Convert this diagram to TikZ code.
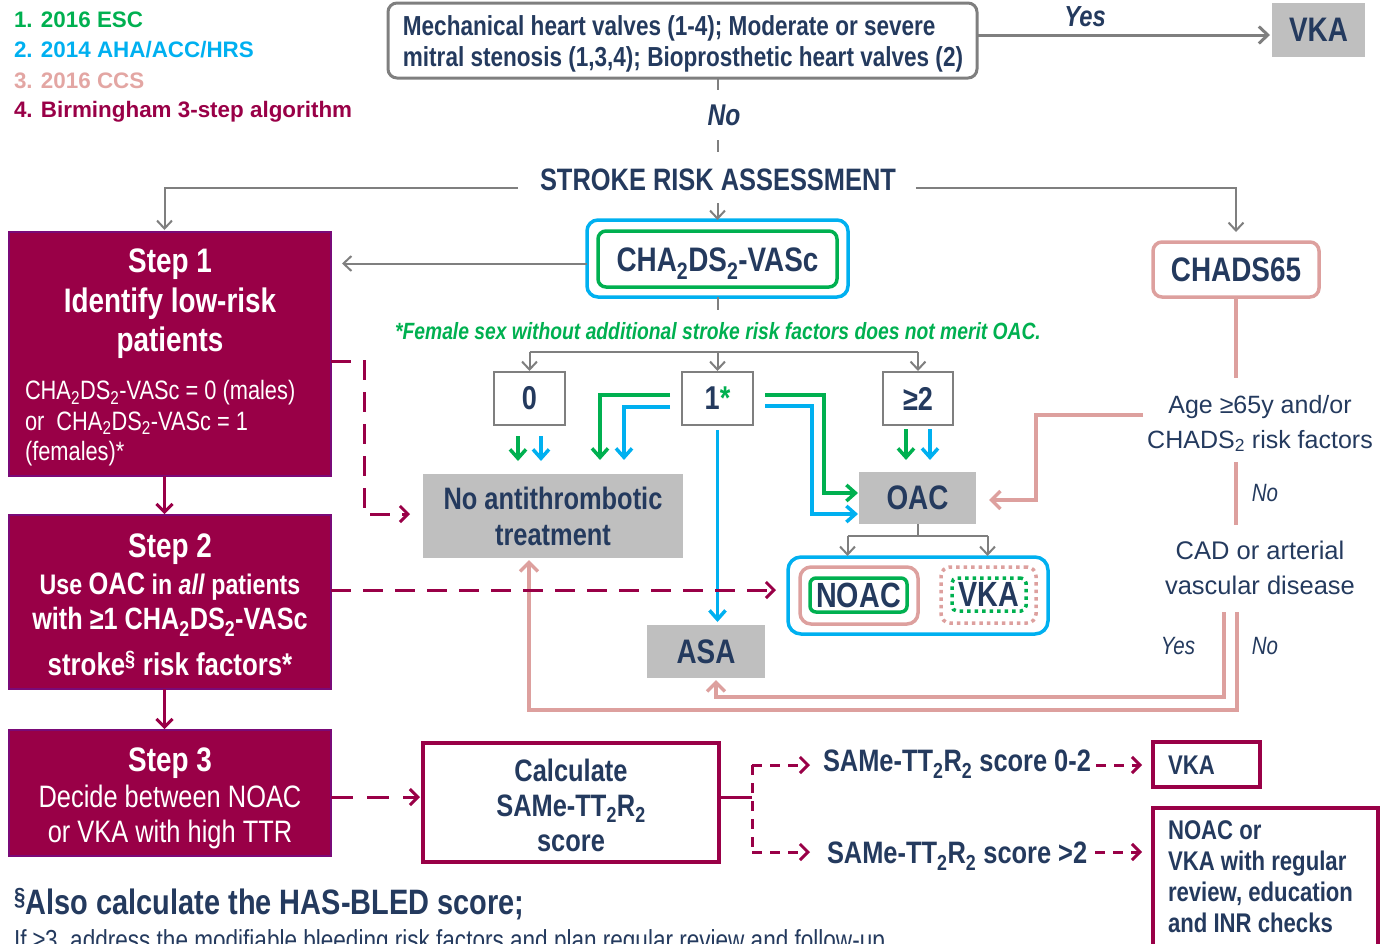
\documentclass[tikz,border=0pt]{standalone}
\usepackage{fontspec}
\setmainfont{Liberation Sans}
\newfontfamily\nar{Liberation Sans}[FakeStretch=0.82]
\usetikzlibrary{arrows.meta,calc}
\definecolor{txt}{HTML}{243A5E}
\definecolor{mar}{HTML}{990047}
\definecolor{pur}{HTML}{7A0A78}
\definecolor{grn}{HTML}{00B050}
\definecolor{cyn}{HTML}{00B0F0}
\definecolor{pnk}{HTML}{DDA09E}
\definecolor{pnkt}{HTML}{E3A6A3}
\definecolor{gbox}{HTML}{BFBFBF}
\definecolor{gln}{HTML}{7F7F7F}
\newcommand\fsz[2]{\fontsize{#1}{#2}\selectfont}
\begin{document}
\begin{tikzpicture}[x=1pt,y=-1pt,
  every node/.style={inner sep=0pt,outer sep=0pt},
  gl/.style={draw=gln,line width=2pt},
  ga/.style={gl,-{Straight Barb[length=8pt,width=15pt]}},
  cl/.style={line width=3.5pt},
  ca/.style={cl,-{Straight Barb[length=9pt,width=16pt]}},
  pl/.style={draw=pnk,line width=3.5pt},
  pa/.style={pl,-{Straight Barb[length=9pt,width=18pt]}},
  md/.style={draw=mar,line width=3pt,dash pattern=on 20pt off 12pt},
  mds/.style={draw=mar,line width=3pt,dash pattern=on 10pt off 8pt},
  ml/.style={draw=mar,line width=3pt},
  ma/.style={-{Straight Barb[length=8pt,width=16pt]}},
  stepbox/.style={fill=mar,draw=pur,line width=2pt,minimum width=322pt},
  gbx/.style={fill=gbox,text=txt,font=\nar\bfseries\fsz{34}{38}},
  wbx/.style={draw=gln,line width=1.5pt,fill=white,text=txt,font=\nar\bfseries\fsz{33}{38},minimum width=71pt,minimum height=53pt},
  hdr/.style={text=white,font=\nar\bfseries\fsz{34}{39.5},align=center},
  leg/.style={anchor=west,font=\bfseries\fsz{22.4}{27}},
]
\useasboundingbox (0,0) rectangle (1394,943);
\clip (0,0) rectangle (1394,943);

% legend
\node[leg,text=grn] (l1) at (14,20) {1. 2016 ESC};
\node[leg,text=cyn] (l2) at (14,50) {2. 2014 AHA/ACC/HRS};
\node[leg,text=pnkt] (l3) at (14,81) {3. 2016 CCS};
\node[leg,text=mar] (l4) at (14,112) {4. Birmingham 3-step algorithm};

% top
\node[draw=gln,line width=3pt,rounded corners=9pt,minimum width=589pt,minimum height=75pt] (top) at (682.5,40.5) {};
\node[text=txt,align=left,font=\nar\bfseries\fsz{27.5}{31}] (topt) at (683,44)
  {Mechanical heart valves (1-4); Moderate or severe\\mitral stenosis (1,3,4); Bioprosthetic heart valves (2)};
\node[gbx,minimum width=93pt,minimum height=54pt] (vkaT) at (1318.5,30) {VKA};
\draw[gl,line width=3pt,-{Straight Barb[length=9pt,width=17pt]}] ($(top.east)+(0,-5.5)$) -- ($(vkaT.west)+(-2,5)$);
\node[text=txt,font=\nar\bfseries\itshape\fsz{29}{32}] (yesT) at (1085,17) {Yes};
\node[text=txt,font=\nar\bfseries\itshape\fsz{30}{32}] (noT) at (724,115) {No};

% stroke risk assessment
\node[text=txt,font=\nar\bfseries\fsz{31}{34}] (sra) at (718,180) {STROKE RISK ASSESSMENT};
\draw[gl] (top.south -| sra) -- ++(0,12);
\draw[gl] ($(top.south -| sra)+(0,62)$) -- ($(top.south -| sra)+(0,74)$);

% step boxes
\coordinate (sx) at (164.5,0);
\node[stepbox,minimum height=244pt] (step1) at (170,354) {};
\node[stepbox,minimum height=174pt] (step2) at (170,602) {};
\node[stepbox,minimum height=126pt] (step3) at (170,793) {};

\node[hdr] (s1t) at (170,304) {Step 1\\Identify low-risk\\patients};
\node[text=white,font=\nar\fsz{26.6}{30.5},align=left,anchor=west] (s1b) at (25,423.5)
  {CHA\textsubscript{2}DS\textsubscript{2}-VASc = 0 (males)\\or\ \ CHA\textsubscript{2}DS\textsubscript{2}-VASc = 1\\(females)*};
\node[hdr] (s2t) at (170,549) {Step 2};
\node[text=white,font=\nar\bfseries\fsz{28.3}{34}] (s2a) at (170,587) {Use {\fsz{31}{34}OAC} in \textit{all} patients};
\node[text=white,font=\nar\bfseries\fsz{30.8}{34}] (s2b) at (170,622) {with ≥1 CHA\textsubscript{2}DS\textsubscript{2}-VASc};
\node[text=white,font=\nar\bfseries\fsz{31.5}{34}] (s2c) at (170,663) {stroke\textsuperscript{\S} risk factors*};
\node[hdr] (s3t) at (170,763) {Step 3};
\node[text=white,font=\nar\fsz{31}{35},align=center] (s3b) at (170,816.5) {Decide between NOAC\\or VKA with high TTR};

\draw[ml,ma] (step1.south -| sx) -- ($(step2.north -| sx)+(0,-1)$);
\draw[ml,ma] (step2.south -| sx) -- ($(step3.north -| sx)+(0,-1)$);

% CHA2DS2-VASc
\node[draw=cyn,line width=3.5pt,rounded corners=11pt,minimum width=261pt,minimum height=77pt] (chaO) at (717.5,258.5) {};
\node[draw=grn,line width=3.5pt,rounded corners=8pt,minimum width=239pt,minimum height=56pt,
  text height=24pt,text depth=0pt,
  text=txt,font=\nar\bfseries\fsz{34}{38}] (chaI) at (717.5,259) {CHA\textsubscript{2}DS\textsubscript{2}-VASc};
\node[draw=pnk,line width=3.5pt,rounded corners=9pt,minimum width=166pt,minimum height=55pt,
  text=txt,font=\nar\bfseries\fsz{34}{38}] (c65) at (1236,269.5) {CHADS65};

\draw[ga] ($(sra.west)+(-22,8)$) -| ($(step1.north -| sx)+(0,-2)$);
\draw[ga] ($(sra.east)+(20,8)$) -| ($(c65.north)+(0,-10)$);
\draw[ga] ($(chaO.north)+(0,-17)$) -- (chaO.north);
\draw[ga] ($(chaO.west)+(0,5)$) -- ($(step1.east |- chaO.west)+(11,5)$);

\node[text=grn,font=\nar\bfseries\itshape\fsz{23.5}{26}] (fem) at (718,331)
  {*Female sex without additional stroke risk factors does not merit OAC.};
\draw[gl] (chaO.south) -- ++(0,13);

% score boxes
\node[wbx] (b0) at (529.5,398.5) {0};
\node[wbx] (b1) at (717.5,398.5) {1\textcolor{grn}{*}};
\node[wbx,minimum width=70pt] (b2) at (918,398.5) {≥2};
\draw[gl] ($(b0.north)+(0,-20)$) -- ($(b2.north)+(0,-20)$);
\draw[ga] ($(b0.north)+(0,-20)$) -- ($(b0.north)+(0,-1)$);
\draw[ga] ($(b1.north)+(0,-20)$) -- ($(b1.north)+(0,-1)$);
\draw[ga] ($(b2.north)+(0,-20)$) -- ($(b2.north)+(0,-1)$);

% outcome boxes
\node[gbx,minimum width=260pt,minimum height=84pt,align=center,font=\nar\bfseries\fsz{31}{36}] (noat) at (553,516) {No antithrombotic\\treatment};
\node[gbx,minimum width=117pt,minimum height=52pt] (oac) at (917.5,498) {OAC};
\node[gbx,minimum width=118pt,minimum height=53pt] (asa) at (706,651.5) {ASA};

% green / cyan arrows
\draw[ca,draw=grn] ($(b0.south)+(-11.5,11)$) -- ($(b0.south)+(-11.5,36)$);
\draw[ca,draw=cyn] ($(b0.south)+(11.5,11)$) -- ($(b0.south)+(11.5,36)$);
\draw[ca,draw=grn] ($(b2.south)+(-12,4)$) -- ($(b2.south)+(-12,35)$);
\draw[ca,draw=cyn] ($(b2.south)+(12,4)$) -- ($(b2.south)+(12,35)$);
\draw[ca,draw=grn] ($(b1.west)+(-12,-3.5)$) -| ($(b0.south)+(70.5,35)$);
\draw[ca,draw=cyn] ($(b1.west)+(-12,8.5)$) -| ($(b0.south)+(94.5,35)$);
\draw[ca,draw=grn] ($(b1.east)+(12,-3.5)$) -| ($(oac.west)+(-35,-5)$) -- ($(oac.west)+(-1,-5)$);
\draw[ca,draw=cyn] ($(b1.east)+(12,7.5)$) -| ($(oac.west)+(-47,16)$) -- ($(oac.west)+(-1,16)$);
\draw[ca,draw=cyn] ($(b1.south)+(0,5)$) -- ($(b1.south |- asa.north)+(0,-3)$);

% NOAC / VKA group
\node[draw=cyn,line width=3.5pt,rounded corners=13pt,minimum width=260pt,minimum height=77pt] (grp) at (918,595.5) {};
\node[draw=pnk,line width=3.5pt,rounded corners=11pt,minimum width=118pt,minimum height=57pt] (noacP) at (859,595.5) {};
\node[draw=grn,line width=3.5pt,rounded corners=6pt,minimum width=97pt,minimum height=34pt,
  text=txt,font=\nar\bfseries\fsz{35}{38}] (noacG) at (858.5,595) {NOAC};
\node[draw=pnk,line width=3.5pt,dash pattern=on 3.5pt off 4pt,rounded corners=9pt,minimum width=95pt,minimum height=56pt] (vkaP) at (988.5,595) {};
\node[draw=grn,line width=3.5pt,dash pattern=on 3.5pt off 4pt,rounded corners=5pt,minimum width=74pt,minimum height=33pt,
  text=txt,font=\nar\bfseries\fsz{35}{38}] (vkaG) at (989,594.5) {VKA};
\draw[gl] (oac.south) -- ++(0,12);
\draw[gl] ($(oac.south)+(-70,12)$) -- ($(oac.south)+(70,12)$);
\draw[ga] ($(oac.south)+(-70,12)$) -- ($(oac.south)+(-70,32)$);
\draw[ga] ($(oac.south)+(70,12)$) -- ($(oac.south)+(70,32)$);

% CCS pathway
\node[text=txt,font=\fsz{25}{35},align=center] (age) at (1260,423.5) {Age ≥65y and/or\\CHADS\textsubscript{2} risk factors};
\node[text=txt,font=\fsz{25.5}{35},align=center] (cad) at (1260,567.5) {CAD or arterial\\vascular disease};
\node[text=txt,font=\nar\itshape\fsz{25}{28}] (no1) at (1265,493) {No};
\node[text=txt,font=\nar\itshape\fsz{25}{28}] (yes2) at (1178,646) {Yes};
\node[text=txt,font=\nar\itshape\fsz{25}{28}] (no2) at (1265,646) {No};
\coordinate (pk1) at (1143,415);
\draw[pl] (c65.south) -- ++(0,81);
\draw[pa] (pk1) -| ($(oac.east)+(60,2)$) -- ($(oac.east)+(13,2)$);
\draw[pl] ($(c65.south)+(0,165)$) -- ($(c65.south)+(0,228)$);
\draw[pa] ($(c65.south)+(-12,315)$) |- ($(asa.south)+(10,19)$) -- ($(asa.south)+(10,2)$);
\draw[pa] ($(c65.south)+(1,315)$) |- ($(noat.south)+(-24,152)$) -- ($(noat.south)+(-24,2)$);

% maroon dashed
\draw[md,ma] ($(step1.east)+(0,7)$) -- ++(33,0) |- ($(noat.west)+(-13,-2)$);
\draw[md,ma] ($(step2.east)+(0,-12)$) -- ($(grp.west |- step2.east)+(-12,-12)$);

% SAMe-TT2R2
\node[draw=mar,line width=4pt,fill=white,minimum width=296pt,minimum height=119pt] (calc) at (571,802.5) {};
\node[text=txt,align=center,font=\nar\bfseries\fsz{31}{35}] (calct) at (571,805)
  {Calculate\\SAMe-TT\textsubscript{2}R\textsubscript{2}\\score};
\draw[md,ma,dash pattern=on 22pt off 14pt] ($(step3.east)+(0,4)$) -- ($(calc.west |- step3.east)+(-3,4)$);
\coordinate (brA) at ($(calc.east)+(33,-37.5)$);
\coordinate (brB) at ($(calc.east)+(33,49.5)$);
\draw[ml] ($(calc.east)+(0,-5.5)$) -- ++(33,0);
\draw[mds] (brA) -- (brB);
\node[text=txt,anchor=west,font=\nar\bfseries\fsz{31}{32}] (sc02) at (823,764) {SAMe-TT\textsubscript{2}R\textsubscript{2} score 0-2};
\node[text=txt,anchor=west,font=\nar\bfseries\fsz{31}{32}] (sc2) at (827,856) {SAMe-TT\textsubscript{2}R\textsubscript{2} score >2};
\node[draw=mar,line width=4pt,minimum width=107pt,minimum height=45pt] (vkab) at (1206.5,764.5) {};
\node[text=txt,anchor=west,font=\nar\bfseries\fsz{27}{31}] (vkabt) at (1168,765) {VKA};
\node[draw=mar,line width=4pt,minimum width=225pt,minimum height=140pt] (noacb) at (1265.5,878) {};
\node[text=txt,anchor=west,align=left,font=\nar\bfseries\fsz{27}{31}] (noacbt) at (1168,877)
  {NOAC or\\VKA with regular\\review, education\\and INR checks};
\draw[mds,ma] (brA) -- ($(sc02.west)+(-13,1)$);
\draw[mds,ma] (brB) -- ($(sc2.west)+(-17,-4)$);
\draw[mds,ma] ($(sc02.east)+(5,1)$) -- ($(vkab.west)+(-11,0.5)$);
\draw[mds,ma] ($(sc2.east)+(8,-4)$) -- ($(noacb.west |- sc2.east)+(-11,-4)$);

% footnote
\node[text=txt,anchor=west,font=\nar\bfseries\fsz{35.3}{38}] (fn1) at (14,904) {\textsuperscript{\S}Also calculate the HAS-BLED score;};
\node[text=txt,anchor=base west,font=\nar\fsz{27.5}{30}] (fn2) at (14,949)
  {If ≥3, address the modifiable bleeding risk factors and plan regular review and follow-up};
\end{tikzpicture}
\end{document}
